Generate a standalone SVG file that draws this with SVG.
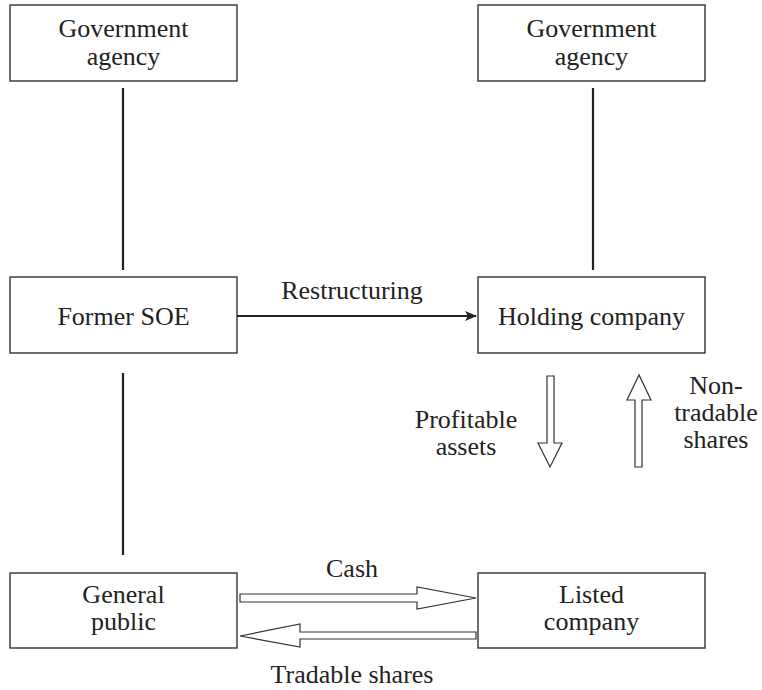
<svg xmlns="http://www.w3.org/2000/svg" width="762" height="690" viewBox="0 0 762 690">
<style>
.box{fill:#fff;stroke:#333;stroke-width:1.4}
.t{font-family:"Liberation Serif","Times New Roman",serif;font-size:26px;fill:#222;text-anchor:middle}
.ln{stroke:#222;stroke-width:2.2;fill:none}
.ha{fill:#fff;stroke:#333;stroke-width:1.2}
</style>
<defs>
<marker id="ah" viewBox="0 0 12 10" refX="11" refY="5" markerWidth="12" markerHeight="10" markerUnits="userSpaceOnUse" orient="auto">
<path d="M0,0 L12,5 L0,10 L3,5 Z" fill="#222"/>
</marker>
</defs>
<rect width="762" height="690" fill="#fff"/>
<g id="connectors">
<line class="ln" x1="123" y1="88" x2="123" y2="270"/>
<line class="ln" x1="593" y1="88" x2="593" y2="270"/>
<line class="ln" x1="123" y1="373" x2="123" y2="555"/>
<line class="ln" x1="237" y1="316" x2="476" y2="316" marker-end="url(#ah)"/>
<text class="t" x="352" y="299">Restructuring</text>
<polygon class="ha" points="547,376 554,376 554,443 562,443 550,467 538,443 547,443"/>
<polygon class="ha" points="635,467 642,467 642,400 651,400 639,375 627,400 635,400"/>
<text class="t" x="466" y="428">Profitable</text>
<text class="t" x="466" y="455">assets</text>
<text class="t" x="716" y="394">Non-</text>
<text class="t" x="716" y="421">tradable</text>
<text class="t" x="716" y="448">shares</text>
<polygon class="ha" points="240,594 417,594 417,587 476,598 417,609 417,602 240,602"/>
<polygon class="ha" points="476,632 300,632 300,624 240,636 300,647 300,639 476,639"/>
<text class="t" x="352" y="577">Cash</text>
<text class="t" x="352" y="683">Tradable shares</text>
</g>
<g id="gov-left">
<rect class="box" x="10" y="5" width="227" height="76"/>
<text class="t" x="123.5" y="37">Government</text>
<text class="t" x="123.5" y="65">agency</text>
</g>
<g id="gov-right">
<rect class="box" x="478" y="5" width="227" height="76"/>
<text class="t" x="591.5" y="37">Government</text>
<text class="t" x="591.5" y="65">agency</text>
</g>
<g id="former-soe">
<rect class="box" x="10" y="277" width="227" height="76"/>
<text class="t" x="123.5" y="325">Former SOE</text>
</g>
<g id="holding">
<rect class="box" x="478" y="277" width="227" height="76"/>
<text class="t" x="591.5" y="325">Holding company</text>
</g>
<g id="public">
<rect class="box" x="10" y="573" width="227" height="75"/>
<text class="t" x="123.5" y="603">General</text>
<text class="t" x="123.5" y="630">public</text>
</g>
<g id="listed">
<rect class="box" x="478" y="573" width="227" height="75"/>
<text class="t" x="591.5" y="603">Listed</text>
<text class="t" x="591.5" y="630">company</text>
</g>
</svg>
